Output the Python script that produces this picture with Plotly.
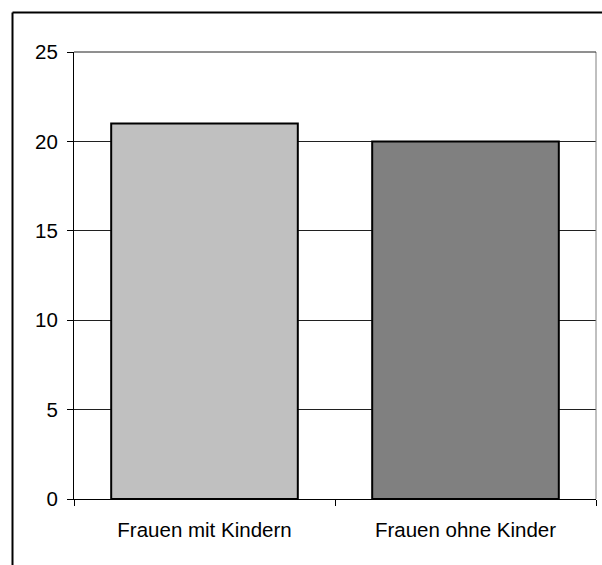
import plotly.graph_objects as go

categories = ["Frauen mit Kindern", "Frauen ohne Kinder"]
values = [21, 20]
bar_colors = ["#C0C0C0", "#808080"]
y_ticks = [0, 5, 10, 15, 20, 25]

W, H = 602, 565
L, R, T, B = 74, 6, 52, 66
pw, ph = W - L - R, H - T - B

def px_x(x):
    return (x - L) / pw

def px_y(y):
    return (H - B - y) / ph

fig = go.Figure(go.Bar(
    x=categories, y=values,
    marker=dict(color=bar_colors, line=dict(color="black", width=2)),
    width=0.715,
    hoverinfo="skip",
))

font = dict(family="Liberation Sans, Arial, sans-serif", size=20.5, color="black")

fig.update_layout(
    width=W, height=H,
    margin=dict(l=L, r=R, t=T, b=B, pad=0),
    paper_bgcolor="white", plot_bgcolor="white",
    showlegend=False,
    font=font,
    xaxis=dict(
        showline=True, linecolor="black", linewidth=1,
        ticks="outside", ticklen=6, tickcolor="black", tickwidth=1,
        tickson="boundaries", showgrid=False, tickfont=font,
        range=[-0.5, 1.5], ticklabelstandoff=12,
    ),
    yaxis=dict(
        range=[0, 25], tickvals=y_ticks, showline=True, linecolor="black", linewidth=1,
        ticks="outside", ticklen=6, tickcolor="black", tickwidth=1,
        showgrid=True, gridcolor="#202020", gridwidth=1, zeroline=False,
        tickfont=font, ticklabelstandoff=5,
    ),
    shapes=[
        # right border of plot area
        dict(type="line", xref="paper", yref="paper", x0=1, x1=1, y0=0, y1=1,
             line=dict(color="#808080", width=1)),
        # top gridline at 25
        dict(type="line", xref="paper", yref="paper", x0=0, x1=1, y0=1, y1=1,
             line=dict(color="#202020", width=1)),
        # outer chart border (cut off at right and bottom)
        dict(type="line", xref="paper", yref="paper", x0=px_x(12.5), x1=px_x(W + 20),
             y0=px_y(12.5), y1=px_y(12.5), line=dict(color="black", width=2)),
        dict(type="line", xref="paper", yref="paper", x0=px_x(12.5), x1=px_x(12.5),
             y0=px_y(12.5), y1=px_y(H + 20), line=dict(color="black", width=2)),
    ],
)

fig.write_html(
    "out.html",
    config={"displayModeBar": False, "staticPlot": True},
    post_script="document.body.style.margin='0';document.body.style.overflow='hidden';",
)
